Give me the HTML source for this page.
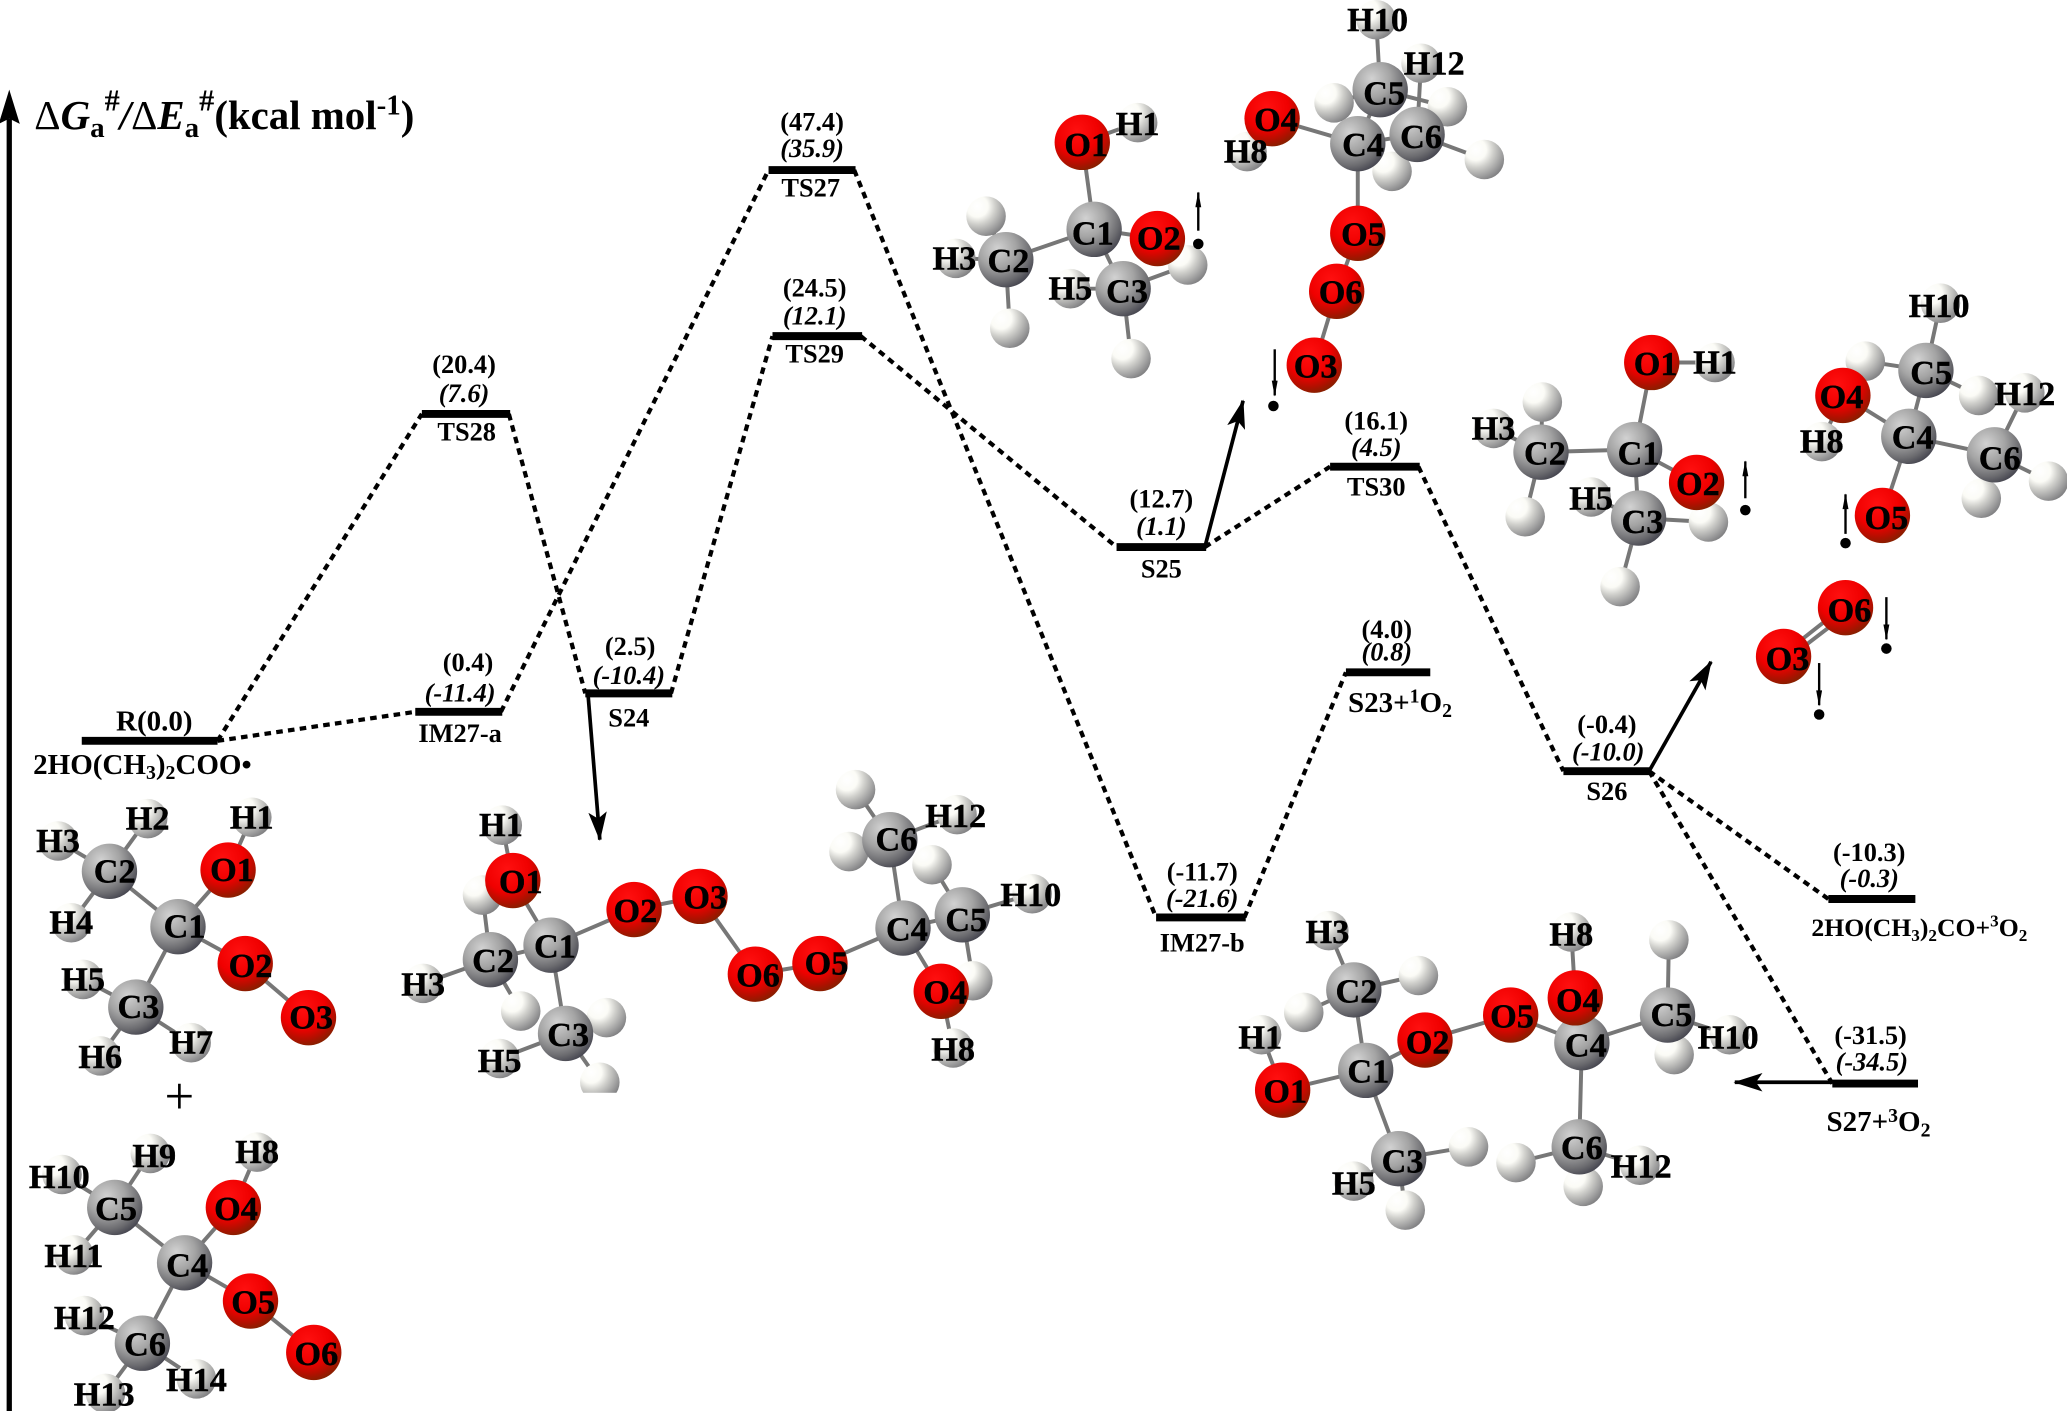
<!DOCTYPE html>
<html><head><meta charset="utf-8"><style>
html,body{margin:0;padding:0;background:#fff}
svg{display:block}
text{font-family:"Liberation Serif",serif;font-weight:bold;fill:#000}
.a text,text.a{font-size:26px;text-anchor:middle;dominant-baseline:central;stroke:#000;stroke-width:.3}
.l text{font-size:20px;text-anchor:middle}
.l text.i{font-style:italic}
.b{stroke:#777;stroke-width:3;fill:none}
.d{stroke:#000;stroke-width:3.2;stroke-dasharray:5 4;fill:none}
.bar{stroke:#000;stroke-width:6;fill:none}
.ar{stroke:#000;stroke-width:2.8;fill:none}
.t{stroke:#000;stroke-width:1.8;fill:none}
</style></head><body>
<svg width="2067" height="1411" viewBox="0 0 1568 1070.4" xmlns="http://www.w3.org/2000/svg">
<defs>
<radialGradient id="C" cx=".35" cy=".3" r=".75"><stop offset="0" stop-color="#d2d2d2"/><stop offset=".45" stop-color="#a4a4a4"/><stop offset=".8" stop-color="#6c6c70"/><stop offset="1" stop-color="#45454f"/></radialGradient>
<radialGradient id="O" cx=".4" cy=".3" r=".8"><stop offset="0" stop-color="#ff1010"/><stop offset=".5" stop-color="#f00000"/><stop offset=".75" stop-color="#b01000"/><stop offset="1" stop-color="#6a2a00"/></radialGradient>
<radialGradient id="H" cx=".28" cy=".25" r=".9"><stop offset="0" stop-color="#fff"/><stop offset=".3" stop-color="#fbfbf6"/><stop offset=".5" stop-color="#d0d0cc"/><stop offset=".75" stop-color="#a0a0a0"/><stop offset="1" stop-color="#6f6f72"/></radialGradient>
<marker id="m" viewBox="0 0 22 14" refX="21" refY="7" markerWidth="22" markerHeight="14" markerUnits="userSpaceOnUse" orient="auto"><path d="M0 0L22 7L0 14L5 7z" fill="#000"/></marker>
<marker id="s" viewBox="0 0 16 8" refX="15" refY="3" markerWidth="16" markerHeight="6" markerUnits="userSpaceOnUse" orient="auto"><path d="M0 0L16 3L0 6z" fill="#000"/></marker>
</defs>

<!-- axis -->
<rect x="5" y="90" width="4" height="981" fill="#000"/>
<path d="M7 68L15 94L7 90L-1 94z" fill="#000"/>
<text x="26" y="98" font-size="31"><tspan font-weight="normal">Δ</tspan><tspan font-style="italic">G</tspan><tspan font-size="22" dy="6">a</tspan><tspan font-size="23" dy="-20">#</tspan><tspan font-style="italic" dy="14">/</tspan><tspan font-weight="normal">Δ</tspan><tspan font-style="italic">E</tspan><tspan font-size="22" dy="6">a</tspan><tspan font-size="23" dy="-20">#</tspan><tspan dy="14">(kcal mol</tspan><tspan font-size="22" dy="-11">-1</tspan><tspan dy="11">)</tspan></text>

<!-- dashed connectors -->
<g class="d">
<path d="M165 562L320 314"/><path d="M165 562L315 540"/><path d="M380 540L583 129"/>
<path d="M386 314L444 526"/><path d="M509 526L586 255"/><path d="M648 129L877 696"/>
<path d="M653 255L847 415"/><path d="M914 415L1009 354"/><path d="M1076 354L1186 585"/>
<path d="M944 696L1021 510"/><path d="M1251 585L1387 682"/><path d="M1251 585L1390 822"/>
</g>
<!-- levels -->
<g class="bar">
<path d="M62 562H165"/><path d="M315 540H381"/><path d="M444 526H510"/><path d="M320 314H387"/>
<path d="M583 129H649"/><path d="M586 255H654"/><path d="M847 415H915"/><path d="M1009 354H1077"/>
<path d="M1021 510H1085"/><path d="M877 696H945"/><path d="M1186 585H1252"/><path d="M1387 682H1453"/><path d="M1390 822H1455"/>
</g>
<!-- arrows -->
<g class="ar">
<path d="M446 526L455 637" marker-end="url(#m)"/>
<path d="M914 415L943 304" marker-end="url(#m)"/>
<path d="M1251 585L1298 502" marker-end="url(#m)"/>
<path d="M1390 821H1316" marker-end="url(#m)"/>
</g>

<!-- level labels -->
<g class="l">
<text x="117" y="554" style="font-size:22px">R(0.0)</text>
<text x="108" y="587" style="font-size:22px">2HO(CH<tspan font-size="15" dy="4">3</tspan><tspan dy="-4">)</tspan><tspan font-size="15" dy="4">2</tspan><tspan dy="-4">COO•</tspan></text>
<text x="355" y="509">(0.4)</text><text class="i" x="349" y="532">(-11.4)</text><text x="349" y="563">IM27-a</text>
<text x="352" y="283">(20.4)</text><text class="i" x="352" y="305">(7.6)</text><text x="354" y="334">TS28</text>
<text x="616" y="99">(47.4)</text><text class="i" x="616" y="119">(35.9)</text><text x="615" y="149">TS27</text>
<text x="618" y="225">(24.5)</text><text class="i" x="618" y="246">(12.1)</text><text x="618" y="275">TS29</text>
<text x="478" y="497">(2.5)</text><text class="i" x="477" y="519">(-10.4)</text><text x="477" y="551">S24</text>
<text x="881" y="385">(12.7)</text><text class="i" x="881" y="406">(1.1)</text><text x="881" y="438">S25</text>
<text x="1044" y="326">(16.1)</text><text class="i" x="1044" y="346">(4.5)</text><text x="1044" y="376">TS30</text>
<text x="1052" y="484">(4.0)</text><text class="i" x="1052" y="501">(0.8)</text><text x="1062" y="540" style="font-size:22px">S23+<tspan font-size="15" dy="-7">1</tspan><tspan dy="7">O</tspan><tspan font-size="15" dy="4">2</tspan></text>
<text x="912" y="668">(-11.7)</text><text class="i" x="912" y="688">(-21.6)</text><text x="912" y="722">IM27-b</text>
<text x="1219" y="556">(-0.4)</text><text class="i" x="1220" y="577">(-10.0)</text><text x="1219" y="607">S26</text>
<text x="1418" y="653">(-10.3)</text><text class="i" x="1418" y="673">(-0.3)</text><text x="1456" y="710" style="font-size:19.5px">2HO(CH<tspan font-size="13" dy="4">3</tspan><tspan dy="-4">)</tspan><tspan font-size="13" dy="4">2</tspan><tspan dy="-4">CO+</tspan><tspan font-size="13" dy="-7">3</tspan><tspan dy="7">O</tspan><tspan font-size="13" dy="4">2</tspan></text>
<text x="1419" y="792">(-31.5)</text><text class="i" x="1420" y="812">(-34.5)</text><text x="1425" y="858" style="font-size:22px">S27+<tspan font-size="15" dy="-7">3</tspan><tspan dy="7">O</tspan><tspan font-size="15" dy="4">2</tspan></text>
</g>
<text x="136" y="845" font-size="40" text-anchor="middle" style="font-weight:normal">+</text>

<!-- Molecule R1 -->
<g>
<path class="b" d="M44 638L83 661M112 621L83 661M54 700L83 661M83 661L135 703M173 660L135 703M191 620L173 660M135 703L186 731M186 731L234 772M135 703L103 764M63 743L103 764M76 801L103 764M145 791L103 764"/>
<circle cx="44" cy="638" r="15" fill="url(#H)"/><circle cx="112" cy="621" r="15" fill="url(#H)"/><circle cx="191" cy="620" r="15" fill="url(#H)"/><circle cx="54" cy="700" r="15" fill="url(#H)"/><circle cx="63" cy="743" r="15" fill="url(#H)"/><circle cx="76" cy="801" r="15" fill="url(#H)"/><circle cx="145" cy="791" r="15" fill="url(#H)"/>
<circle cx="83" cy="661" r="21" fill="url(#C)"/><circle cx="135" cy="703" r="21" fill="url(#C)"/><circle cx="103" cy="764" r="21" fill="url(#C)"/>
<circle cx="173" cy="660" r="21" fill="url(#O)"/><circle cx="186" cy="731" r="21" fill="url(#O)"/><circle cx="234" cy="772" r="21" fill="url(#O)"/>
<g class="a"><text x="44" y="638">H3</text><text x="112" y="621">H2</text><text x="191" y="620">H1</text><text x="54" y="700">H4</text><text x="63" y="743">H5</text><text x="76" y="802">H6</text><text x="145" y="791">H7</text><text x="87" y="661">C2</text><text x="140" y="703">C1</text><text x="105" y="764">C3</text><text x="176" y="660">O1</text><text x="190" y="733">O2</text><text x="236" y="772">O3</text></g>
</g>

<!-- Molecule R2 -->
<g>
<path class="b" d="M47 891L87 916M114 875L87 916M56 952L87 916M87 916L140 958M177 916L140 958M195 874L177 916M140 958L190 987M190 987L238 1026M140 958L108 1019M64 998L108 1019M80 1057L108 1019M149 1046L108 1019"/>
<circle cx="195" cy="874" r="15" fill="url(#H)"/><circle cx="114" cy="875" r="15" fill="url(#H)"/><circle cx="47" cy="891" r="15" fill="url(#H)"/><circle cx="56" cy="952" r="15" fill="url(#H)"/><circle cx="64" cy="998" r="15" fill="url(#H)"/><circle cx="80" cy="1057" r="15" fill="url(#H)"/><circle cx="149" cy="1046" r="15" fill="url(#H)"/>
<circle cx="87" cy="916" r="21" fill="url(#C)"/><circle cx="140" cy="958" r="21" fill="url(#C)"/><circle cx="108" cy="1019" r="21" fill="url(#C)"/>
<circle cx="177" cy="916" r="21" fill="url(#O)"/><circle cx="190" cy="987" r="21" fill="url(#O)"/><circle cx="238" cy="1026" r="21" fill="url(#O)"/>
<g class="a"><text x="195" y="874">H8</text><text x="117" y="877">H9</text><text x="45" y="893">H10</text><text x="56" y="953">H11</text><text x="64" y="1000">H12</text><text x="79" y="1058">H13</text><text x="149" y="1047">H14</text><text x="88" y="917">C5</text><text x="142" y="960">C4</text><text x="110" y="1020">C6</text><text x="179" y="917">O4</text><text x="192" y="988">O5</text><text x="240" y="1027">O6</text></g>
</g>

<!-- Molecule S24 adduct -->
<g>
<path class="b" d="M381 626L389 668M389 668L418 717M366 679L372 728M372 728L418 717M321 746L372 728M372 728L395 767M418 717L481 690M418 717L429 784M429 784L460 772M429 784L379 803M429 784L455 821M481 690L531 680M531 680L573 739M573 739L622 731M622 731L685 704M685 704L675 637M675 637L649 599M675 637L644 646M675 637L726 618M685 704L730 694M730 694L707 656M730 694L783 678M685 704L714 752M730 694L738 743M714 752L723 795"/>
<circle cx="381" cy="626" r="15" fill="url(#H)"/><circle cx="366" cy="679" r="15" fill="url(#H)"/><circle cx="321" cy="746" r="15" fill="url(#H)"/><circle cx="395" cy="767" r="15" fill="url(#H)"/><circle cx="460" cy="772" r="15" fill="url(#H)"/><circle cx="379" cy="803" r="15" fill="url(#H)"/><circle cx="455" cy="821" r="15" fill="url(#H)"/>
<rect x="435" y="829" width="40" height="10" fill="#fff"/>
<circle cx="649" cy="599" r="15" fill="url(#H)"/><circle cx="644" cy="646" r="15" fill="url(#H)"/><circle cx="726" cy="618" r="15" fill="url(#H)"/><circle cx="707" cy="656" r="15" fill="url(#H)"/><circle cx="783" cy="678" r="15" fill="url(#H)"/><circle cx="738" cy="744" r="15" fill="url(#H)"/><circle cx="723" cy="795" r="15" fill="url(#H)"/>
<circle cx="372" cy="728" r="21" fill="url(#C)"/><circle cx="418" cy="717" r="21" fill="url(#C)"/><circle cx="429" cy="784" r="21" fill="url(#C)"/>
<circle cx="389" cy="668" r="21" fill="url(#O)"/><circle cx="481" cy="690" r="21" fill="url(#O)"/><circle cx="531" cy="680" r="21" fill="url(#O)"/><circle cx="573" cy="739" r="21" fill="url(#O)"/><circle cx="622" cy="731" r="21" fill="url(#O)"/>
<circle cx="675" cy="637" r="21" fill="url(#C)"/><circle cx="730" cy="694" r="21" fill="url(#C)"/><circle cx="685" cy="704" r="21" fill="url(#C)"/><circle cx="714" cy="752" r="21" fill="url(#O)"/>
<g class="a"><text x="380" y="626">H1</text><text x="321" y="747">H3</text><text x="379" y="805">H5</text><text x="395" y="669">O1</text><text x="374" y="729">C2</text><text x="421" y="718">C1</text><text x="431" y="785">C3</text><text x="482" y="691">O2</text><text x="535" y="681">O3</text><text x="575" y="740">O6</text><text x="627" y="731">O5</text><text x="688" y="705">C4</text><text x="680" y="637">C6</text><text x="725" y="619">H12</text><text x="733" y="698">C5</text><text x="782" y="679">H10</text><text x="717" y="753">O4</text><text x="723" y="796">H8</text></g>
</g>

<!-- Top middle fragment 1 -->
<g>
<path class="b" d="M821 108L863 93M821 108L830 174M830 174L878 181M830 174L763 197M763 197L725 196M763 197L748 164M763 197L766 249M830 174L852 219M852 219L812 219M852 219L901 201M852 219L858 272"/>
<circle cx="863" cy="93" r="15" fill="url(#H)"/><circle cx="901" cy="201" r="15" fill="url(#H)"/><circle cx="748" cy="164" r="15" fill="url(#H)"/><circle cx="725" cy="196" r="15" fill="url(#H)"/><circle cx="766" cy="249" r="15" fill="url(#H)"/><circle cx="812" cy="219" r="15" fill="url(#H)"/><circle cx="858" cy="272" r="15" fill="url(#H)"/>
<circle cx="821" cy="108" r="21" fill="url(#O)"/><circle cx="830" cy="174" r="21" fill="url(#C)"/><circle cx="878" cy="181" r="21" fill="url(#O)"/><circle cx="763" cy="197" r="21" fill="url(#C)"/><circle cx="852" cy="219" r="21" fill="url(#C)"/>
<g class="a"><text x="824" y="110">O1</text><text x="863" y="94">H1</text><text x="829" y="177">C1</text><text x="879" y="181">O2</text><text x="765" y="198">C2</text><text x="724" y="196">H3</text><text x="812" y="219">H5</text><text x="855" y="221">C3</text></g>
<path class="t" d="M909 175V146" marker-end="url(#s)"/><circle cx="909" cy="185" r="4" fill="#000"/>
</g>

<!-- Top middle fragment 2 -->
<g>
<path class="b" d="M965 90L1030 109M965 90L946 115M1030 109L1047 68M1047 68L1044 15M1047 68L1012 78M1047 68L1098 81M1030 109L1075 102M1075 102L1078 48M1075 102L1126 121M1075 102L1056 130M1030 109L1030 177M1030 177L1014 221M1014 221L997 277"/>
<circle cx="1044" cy="15" r="15" fill="url(#H)"/><circle cx="1078" cy="48" r="15" fill="url(#H)"/><circle cx="1012" cy="78" r="15" fill="url(#H)"/><circle cx="1098" cy="81" r="15" fill="url(#H)"/><circle cx="1126" cy="121" r="15" fill="url(#H)"/><circle cx="1056" cy="130" r="15" fill="url(#H)"/><circle cx="946" cy="115" r="15" fill="url(#H)"/>
<circle cx="1047" cy="68" r="21" fill="url(#C)"/><circle cx="1075" cy="102" r="21" fill="url(#C)"/><circle cx="1030" cy="109" r="21" fill="url(#C)"/>
<circle cx="965" cy="90" r="21" fill="url(#O)"/><circle cx="1030" cy="177" r="21" fill="url(#O)"/><circle cx="1014" cy="221" r="21" fill="url(#O)"/><circle cx="997" cy="277" r="21" fill="url(#O)"/>
<g class="a"><text x="1045" y="15">H10</text><text x="1088" y="48">H12</text><text x="1050" y="71">C5</text><text x="968" y="91">O4</text><text x="945" y="115">H8</text><text x="1034" y="110">C4</text><text x="1078" y="104">C6</text><text x="1034" y="178">O5</text><text x="1017" y="222">O6</text><text x="998" y="278">O3</text></g>
<path class="t" d="M967 265V300" marker-end="url(#s)"/><circle cx="966" cy="308" r="4" fill="#000"/>
</g>

<!-- Right fragment 1 -->
<g>
<path class="b" d="M1253 275L1301 275M1253 275L1240 341M1240 341L1169 343M1169 343L1133 325M1169 343L1170 305M1169 343L1157 392M1240 341L1287 366M1240 341L1243 393M1243 393L1207 377M1243 393L1296 396M1243 393L1229 445"/>
<circle cx="1301" cy="275" r="15" fill="url(#H)"/><circle cx="1133" cy="325" r="15" fill="url(#H)"/><circle cx="1170" cy="305" r="15" fill="url(#H)"/><circle cx="1157" cy="392" r="15" fill="url(#H)"/><circle cx="1207" cy="377" r="15" fill="url(#H)"/><circle cx="1296" cy="396" r="15" fill="url(#H)"/><circle cx="1229" cy="445" r="15" fill="url(#H)"/>
<circle cx="1253" cy="275" r="21" fill="url(#O)"/><circle cx="1240" cy="341" r="21" fill="url(#C)"/><circle cx="1169" cy="343" r="21" fill="url(#C)"/><circle cx="1243" cy="393" r="21" fill="url(#C)"/><circle cx="1287" cy="366" r="21" fill="url(#O)"/>
<g class="a"><text x="1256" y="276">O1</text><text x="1301" y="275">H1</text><text x="1133" y="325">H3</text><text x="1172" y="344">C2</text><text x="1243" y="344">C1</text><text x="1288" y="367">O2</text><text x="1207" y="378">H5</text><text x="1246" y="396">C3</text></g>
<path class="t" d="M1324 378V350" marker-end="url(#s)"/><circle cx="1324" cy="387" r="4" fill="#000"/>
</g>

<!-- Right fragment 2 -->
<g>
<path class="b" d="M1398 300L1448 331M1398 300L1382 335M1448 331L1461 281M1461 281L1472 230M1461 281L1415 274M1461 281L1501 300M1448 331L1513 345M1513 345L1536 298M1513 345L1554 365M1513 345L1503 378M1448 331L1428 391"/>
<circle cx="1472" cy="230" r="15" fill="url(#H)"/><circle cx="1415" cy="274" r="15" fill="url(#H)"/><circle cx="1501" cy="300" r="15" fill="url(#H)"/><circle cx="1536" cy="298" r="15" fill="url(#H)"/><circle cx="1382" cy="335" r="15" fill="url(#H)"/><circle cx="1554" cy="365" r="15" fill="url(#H)"/><circle cx="1503" cy="378" r="15" fill="url(#H)"/>
<circle cx="1461" cy="281" r="21" fill="url(#C)"/><circle cx="1513" cy="345" r="21" fill="url(#C)"/><circle cx="1448" cy="331" r="21" fill="url(#C)"/>
<circle cx="1398" cy="300" r="21" fill="url(#O)"/><circle cx="1428" cy="391" r="21" fill="url(#O)"/>
<g class="a"><text x="1471" y="232">H10</text><text x="1536" y="299">H12</text><text x="1465" y="283">C5</text><text x="1397" y="301">O4</text><text x="1382" y="335">H8</text><text x="1451" y="332">C4</text><text x="1517" y="348">C6</text><text x="1431" y="393">O5</text></g>
<path class="t" d="M1400 405V375" marker-end="url(#s)"/><circle cx="1400" cy="412" r="4" fill="#000"/>
</g>

<!-- O2 -->
<g>
<path class="b" d="M1353 496L1400 459M1356 500L1403 464"/>
<circle cx="1400" cy="461" r="21" fill="url(#O)"/><circle cx="1353" cy="498" r="21" fill="url(#O)"/>
<g class="a"><text x="1403" y="463">O6</text><text x="1356" y="500">O3</text></g>
<path class="t" d="M1431 453V485" marker-end="url(#s)"/><circle cx="1431" cy="492" r="4" fill="#000"/>
<path class="t" d="M1380 503V535" marker-end="url(#s)"/><circle cx="1380" cy="542" r="4" fill="#000"/>
</g>

<!-- Bottom right molecule -->
<g>
<path class="b" d="M1008 706L1027 751M1076 740L1027 751M989 768L1027 751M1027 751L1036 812M957 785L973 827M973 827L1036 812M1036 812L1081 789M1081 789L1146 770M1146 770L1200 791M1192 707L1195 757M1195 757L1200 791M1200 791L1265 770M1266 713L1265 770M1265 770L1312 785M1265 770L1270 800M1036 812L1061 879M1061 879L1114 870M1061 879L1027 896M1061 879L1066 918M1200 791L1198 870M1198 870L1150 882M1198 870L1244 884M1198 870L1201 900"/>
<circle cx="1008" cy="706" r="15" fill="url(#H)"/><circle cx="1076" cy="740" r="15" fill="url(#H)"/><circle cx="989" cy="768" r="15" fill="url(#H)"/><circle cx="957" cy="785" r="15" fill="url(#H)"/><circle cx="1192" cy="707" r="15" fill="url(#H)"/><circle cx="1266" cy="713" r="15" fill="url(#H)"/><circle cx="1312" cy="785" r="15" fill="url(#H)"/><circle cx="1270" cy="800" r="15" fill="url(#H)"/><circle cx="1114" cy="870" r="15" fill="url(#H)"/><circle cx="1027" cy="896" r="15" fill="url(#H)"/><circle cx="1066" cy="918" r="15" fill="url(#H)"/><circle cx="1150" cy="882" r="15" fill="url(#H)"/><circle cx="1244" cy="884" r="15" fill="url(#H)"/><circle cx="1201" cy="900" r="15" fill="url(#H)"/>
<circle cx="1027" cy="751" r="21" fill="url(#C)"/><circle cx="1036" cy="812" r="21" fill="url(#C)"/><circle cx="1061" cy="879" r="21" fill="url(#C)"/><circle cx="1200" cy="791" r="21" fill="url(#C)"/><circle cx="1265" cy="770" r="21" fill="url(#C)"/><circle cx="1198" cy="870" r="21" fill="url(#C)"/>
<circle cx="973" cy="827" r="21" fill="url(#O)"/><circle cx="1081" cy="789" r="21" fill="url(#O)"/><circle cx="1146" cy="770" r="21" fill="url(#O)"/><circle cx="1195" cy="757" r="21" fill="url(#O)"/>
<g class="a"><text x="1007" y="707">H3</text><text x="1029" y="752">C2</text><text x="956" y="787">H1</text><text x="975" y="828">O1</text><text x="1038" y="813">C1</text><text x="1083" y="791">O2</text><text x="1147" y="771">O5</text><text x="1197" y="759">O4</text><text x="1192" y="709">H8</text><text x="1203" y="793">C4</text><text x="1268" y="770">C5</text><text x="1311" y="787">H10</text><text x="1064" y="881">C3</text><text x="1027" y="898">H5</text><text x="1200" y="871">C6</text><text x="1245" y="885">H12</text></g>
</g>
</svg>
</body></html>
